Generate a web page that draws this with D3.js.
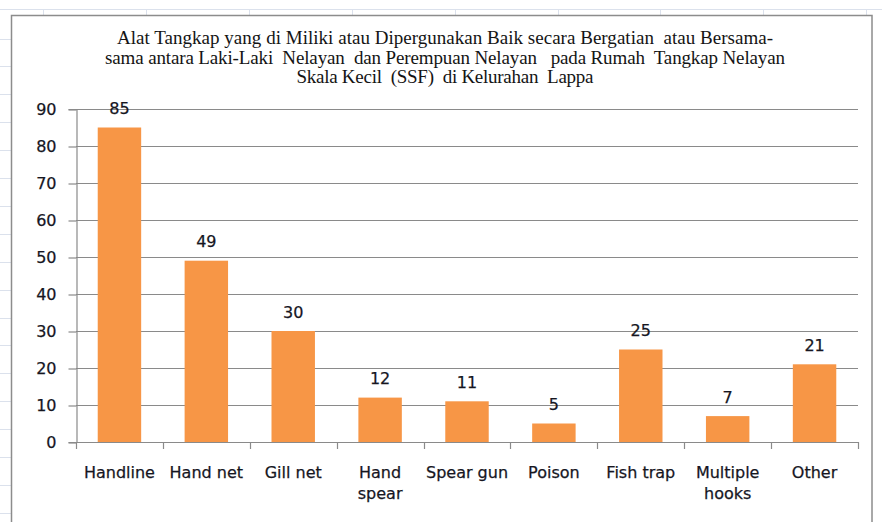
<!DOCTYPE html>
<html>
<head>
<meta charset="utf-8">
<script src="https://cdn.jsdelivr.net/npm/d3@7"></script>
<style>
  html, body { margin: 0; padding: 0; background: #fff; }
  svg { display: block; }
</style>
</head>
<body>
<div id="chart"></div>
<script>
const categories = ['Handline', 'Hand net', 'Gill net', 'Hand spear', 'Spear gun', 'Poison', 'Fish trap', 'Multiple hooks', 'Other'];
const tickLabels = [['Handline'], ['Hand net'], ['Gill net'], ['Hand', 'spear'], ['Spear gun'], ['Poison'], ['Fish trap'], ['Multiple', 'hooks'], ['Other']];
const values = [85, 49, 30, 12, 11, 5, 25, 7, 21];
const yTicks = [0, 10, 20, 30, 40, 50, 60, 70, 80, 90];
const titleLines = [
  'Alat Tangkap yang di Miliki atau Dipergunakan Baik secara Bergatian  atau Bersama-',
  'sama antara Laki-Laki  Nelayan  dan Perempuan Nelayan   pada Rumah  Tangkap Nelayan',
  'Skala Kecil  (SSF)  di Kelurahan  Lappa'
];
const titleWidths = [656, 680, 297];

const W = 882, H = 522;
const plot = { left: 76, right: 858, top: 109, bottom: 442 };
const labelFont = '"DejaVu Sans", Verdana, sans-serif';
const textColor = '#16161f';

const svg = d3.select('#chart').append('svg')
  .attr('width', W)
  .attr('height', H);

// Spreadsheet cells behind the chart object
const sheet = svg.append('g').attr('stroke', '#dbe1ec').attr('stroke-width', 1);
sheet.selectAll('line.row')
  .data(d3.range(38.5, H, 27.9))
  .join('line')
  .attr('x1', 0).attr('x2', 11)
  .attr('y1', d => Math.round(d) + 0.5).attr('y2', d => Math.round(d) + 0.5);
sheet.append('line').attr('x1', 0).attr('x2', W).attr('y1', 9.5).attr('y2', 9.5);
sheet.selectAll('line.col')
  .data(d3.range(43, W, 102.9))
  .join('line')
  .attr('x1', d => Math.round(d) + 0.5).attr('x2', d => Math.round(d) + 0.5)
  .attr('y1', 9.5).attr('y2', 16);

// Chart frame
svg.append('rect')
  .attr('x', 11.5).attr('y', 15.5)
  .attr('width', 860.5).attr('height', H)
  .attr('fill', '#fff')
  .attr('stroke', '#8c8c8c')
  .attr('stroke-width', 1.5);

// Title
svg.append('g')
  .selectAll('text')
  .data(titleLines)
  .join('text')
  .attr('x', 445)
  .attr('y', (d, i) => 44 + i * 19.5)
  .attr('text-anchor', 'middle')
  .attr('font-family', '"Liberation Serif", "Times New Roman", serif')
  .attr('font-size', 19)
  .attr('fill', '#141414')
  .attr('textLength', (d, i) => titleWidths[i])
  .attr('lengthAdjust', 'spacing')
  .style('white-space', 'pre')
  .text(d => d);

// Scales
const x = d3.scaleBand()
  .domain(categories)
  .range([plot.left, plot.right])
  .paddingInner(0.5)
  .paddingOuter(0.25);

const y = d3.scaleLinear()
  .domain([0, 90])
  .range([plot.bottom, plot.top]);

const step = (plot.right - plot.left) / categories.length;

// Gridlines
svg.append('g')
  .selectAll('line')
  .data(yTicks.slice(1))
  .join('line')
  .attr('x1', plot.left).attr('x2', plot.right)
  .attr('y1', d => Math.round(y(d)) + 0.5).attr('y2', d => Math.round(y(d)) + 0.5)
  .attr('stroke', '#8a8a8a')
  .attr('stroke-width', 1.2);

// Y axis
const yAxis = svg.append('g')
  .attr('transform', `translate(${plot.left + 0.5},0)`)
  .call(d3.axisLeft(y).tickValues(yTicks).tickSize(8).tickPadding(12));
yAxis.selectAll('.tick line')
  .attr('stroke', '#8a8a8a')
  .attr('transform', 'translate(0,0.5)')
  .attr('stroke-width', 1.2);
yAxis.select('.domain').attr('stroke', '#8a8a8a').attr('stroke-width', 1.2);
yAxis.selectAll('text')
  .attr('font-family', labelFont)
  .attr('font-size', 16)
  .attr('fill', textColor)
  .attr('stroke', textColor)
  .attr('stroke-width', 0.25);

// Bars
svg.append('g')
  .selectAll('rect')
  .data(values)
  .join('rect')
  .attr('x', (d, i) => x(categories[i]))
  .attr('y', d => y(d))
  .attr('width', x.bandwidth())
  .attr('height', d => y(0) - y(d))
  .attr('fill', '#F79646');

// X axis line and boundary ticks
const xAxis = svg.append('g');
xAxis.append('line')
  .attr('x1', plot.left).attr('x2', plot.right)
  .attr('y1', plot.bottom + 0.5).attr('y2', plot.bottom + 0.5)
  .attr('stroke', '#8a8a8a')
  .attr('stroke-width', 1.2);
xAxis.selectAll('line.tick')
  .data(d3.range(categories.length + 1))
  .join('line')
  .attr('class', 'tick')
  .attr('x1', i => Math.round(plot.left + i * step) + 0.5)
  .attr('x2', i => Math.round(plot.left + i * step) + 0.5)
  .attr('y1', plot.bottom)
  .attr('y2', plot.bottom + 7)
  .attr('stroke', '#8a8a8a')
  .attr('stroke-width', 1.2);

// Category labels
svg.append('g')
  .selectAll('text')
  .data(categories)
  .join('text')
  .attr('text-anchor', 'middle')
  .attr('font-family', labelFont)
  .attr('font-size', 16)
  .attr('fill', textColor)
  .attr('stroke', textColor)
  .attr('stroke-width', 0.25)
  .each(function(d, i) {
    d3.select(this).selectAll('tspan')
      .data(tickLabels[i])
      .join('tspan')
      .attr('x', x(d) + x.bandwidth() / 2)
      .attr('y', (t, j) => 477.5 + j * 21)
      .text(t => t);
  });

// Value labels
svg.append('g')
  .selectAll('text')
  .data(values)
  .join('text')
  .attr('x', (d, i) => x(categories[i]) + x.bandwidth() / 2)
  .attr('y', d => y(d) - 13.5)
  .attr('text-anchor', 'middle')
  .attr('font-family', labelFont)
  .attr('font-size', 16)
  .attr('fill', textColor)
  .attr('stroke', textColor)
  .attr('stroke-width', 0.25)
  .text(d => d);
</script>
</body>
</html>
